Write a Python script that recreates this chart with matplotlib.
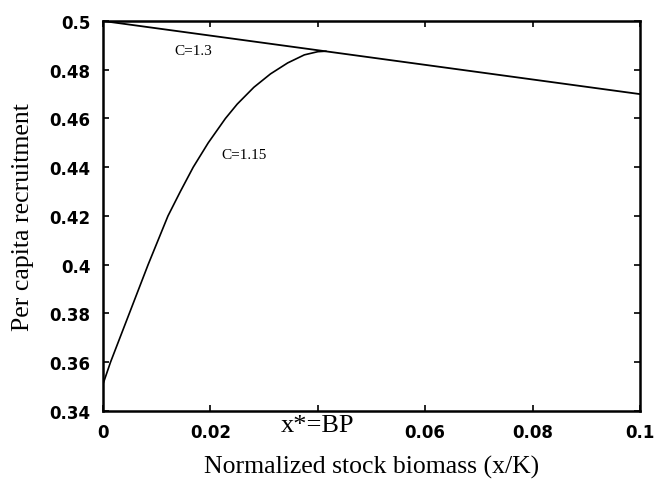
import numpy as np
import matplotlib
matplotlib.use("Agg")
import matplotlib.pyplot as plt
import matplotlib.transforms as mtransforms

# straight line, C=1.3
line_x = [0.0, 0.1]
line_y = [0.5, 0.47]

# rising curve, C=1.15
curve_x = [0.0, 0.0014, 0.0049, 0.0084, 0.0121, 0.0144, 0.0168, 0.0196,
           0.0228, 0.0250, 0.0281, 0.0312, 0.0344, 0.0375, 0.0400, 0.0415]
curve_y = [0.351, 0.360, 0.380, 0.400, 0.420, 0.430, 0.440, 0.450,
           0.460, 0.4659, 0.4728, 0.4783, 0.4828, 0.4861, 0.4874, 0.4876]

xticks = [0, 0.02, 0.04, 0.06, 0.08, 0.1]
xtick_labels = ["0", "0.02", "", "0.06", "0.08", "0.1"]
yticks = [0.34, 0.36, 0.38, 0.4, 0.42, 0.44, 0.46, 0.48, 0.5]
ytick_labels = ["0.34", "0.36", "0.38", "0.4", "0.42", "0.44", "0.46", "0.48", "0.5"]

serif = ["Liberation Serif", "DejaVu Serif"]

fig = plt.figure(figsize=(6.58, 4.81), dpi=100)
ax = fig.add_axes([0.1565, 0.1435, 0.8161, 0.8108])

ax.plot(line_x, line_y, color="black", lw=1.3)
ax.plot(curve_x, curve_y, color="black", lw=1.2)

ax.set_xlim(0, 0.1)
ax.set_ylim(0.34, 0.5)
ax.set_xticks(xticks)
ax.set_xticklabels(xtick_labels)
ax.set_yticks(yticks)
ax.set_yticklabels(ytick_labels)

for lab in ax.get_xticklabels() + ax.get_yticklabels():
    lab.set_fontfamily("DejaVu Sans")
    lab.set_fontweight("bold")
    lab.set_fontsize(12)

ax.tick_params(direction="in", length=4, width=1.2, top=True, right=True)
ax.tick_params(axis="x", pad=9)
ax.tick_params(axis="y", pad=9)
for sp in ax.spines.values():
    sp.set_linewidth(1.8)

# x* = BP replaces the 0.04 tick label
trans = mtransforms.blended_transform_factory(ax.transData, ax.transAxes)
ax.text(0.04, -0.008, "x*=BP", transform=trans, ha="center", va="top",
        family=serif, fontsize=19)

ax.text(0.0168, 0.4877, "C=1.3", ha="center", va="center", family=serif, fontsize=11)
ax.text(0.0262, 0.4454, "C=1.15", ha="center", va="center", family=serif, fontsize=11)

ax.set_xlabel("Normalized stock biomass (x/K)", family=serif, fontsize=18.5, labelpad=10)
ax.set_ylabel("Per capita recruitment", family=serif, fontsize=18.5, labelpad=11)

fig.savefig("out.png", dpi=100)
